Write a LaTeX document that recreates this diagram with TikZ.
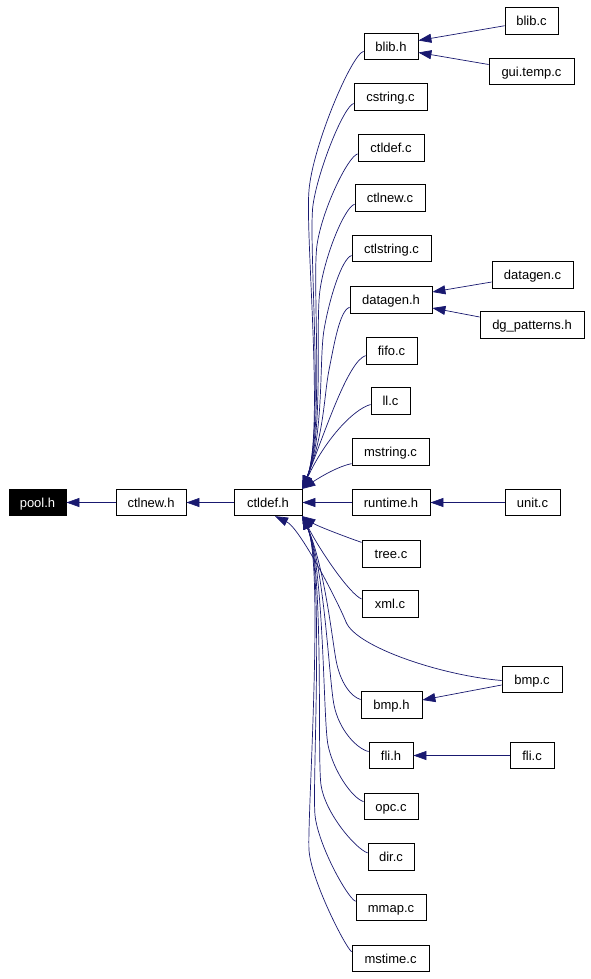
\documentclass[tikz,border=0pt]{standalone}
\usepackage{fontspec}
\setmainfont{Liberation Sans}
\usetikzlibrary{arrows.meta}
\definecolor{edgeblue}{HTML}{191970}
\begin{document}
\begin{tikzpicture}[x=1pt,y=-1pt,
  box/.style={draw=black, line width=0.8pt, minimum height=26.5pt, inner sep=0pt,
    text height=9.5pt, text depth=0pt, font=\fontsize{13}{15}\selectfont},
  dep/.style={draw=edgeblue, line width=0.7pt, -{Triangle[length=13pt,width=9pt]}}]
\useasboundingbox[fill=white] (0,0) rectangle (591,979);
% nodes
\node[box, fill=black, text=white, minimum width=57pt] (poolh) at (37.5,502.5) {pool.h};
\node[box, minimum width=70pt] (ctlnewh) at (151,502.5) {ctlnew.h};
\node[box, minimum width=68pt] (ctldefh) at (268,502.5) {ctldef.h};
\node[box, minimum width=54pt] (blibh) at (391,46.5) {blib.h};
\node[box, minimum width=53pt] (blibc) at (531.5,21) {blib.c};
\node[box, minimum width=85pt] (guitempc) at (531.5,71.5) {gui.temp.c};
\node[box, minimum width=73pt] (cstringc) at (390.5,97) {cstring.c};
\node[box, minimum width=66pt] (ctldefc) at (391,148) {ctldef.c};
\node[box, minimum width=70pt] (ctlnewc) at (390,198) {ctlnew.c};
\node[box, minimum width=79pt] (ctlstringc) at (391.5,248.5) {ctlstring.c};
\node[box, minimum width=82pt] (datagenh) at (391,300) {datagen.h};
\node[box, minimum width=81pt] (datagenc) at (532.5,275) {datagen.c};
\node[box, minimum width=104pt] (dgpatternsh) at (532,325) {dg\_patterns.h};
\node[box, minimum width=51pt] (fifoc) at (391.5,351) {fifo.c};
\node[box, minimum width=39pt] (llc) at (390.5,401) {ll.c};
\node[box, minimum width=77pt] (mstringc) at (390.5,452) {mstring.c};
\node[box, minimum width=78pt] (runtimeh) at (391,502.5) {runtime.h};
\node[box, minimum width=55pt] (unitc) at (532.5,502.5) {unit.c};
\node[box, minimum width=58pt] (treec) at (391,554) {tree.c};
\node[box, minimum width=56pt] (xmlc) at (390,604) {xml.c};
\node[box, minimum width=60pt] (bmpc) at (532,679.5) {bmp.c};
\node[box, minimum width=61pt] (bmph) at (391.5,705) {bmp.h};
\node[box, minimum width=44pt] (flih) at (391,755.5) {fli.h};
\node[box, minimum width=44pt] (flic) at (532,755.5) {fli.c};
\node[box, minimum width=54pt] (opcc) at (391,806.5) {opc.c};
\node[box, minimum width=46pt] (dirc) at (391,857) {dir.c};
\node[box, minimum width=70pt] (mmapc) at (391,907.5) {mmap.c};
\node[box, minimum width=77pt] (mstimec) at (390.5,958.5) {mstime.c};
% straight edges
\draw[dep] (ctlnewh) -- (poolh);
\draw[dep] (ctldefh) -- (ctlnewh);
\draw[dep] (runtimeh) -- (ctldefh);
\draw[dep] (unitc) -- (runtimeh);
\draw[dep] (flic) -- (flih);
\draw[dep] (blibc.190) -- ([yshift=6pt]blibh.east);
\draw[dep] ([yshift=7pt]guitempc.west) -- ([yshift=-6pt]blibh.east);
\draw[dep] ([yshift=-7pt]datagenc.west) -- ([yshift=8pt]datagenh.east);
\draw[dep] ([yshift=8pt]dgpatternsh.west) -- ([yshift=-8pt]datagenh.east);
\draw[dep] ([yshift=-5.5pt]bmpc.west) -- ([yshift=5pt]bmph.east);
% edges from above into ctldef.h
\draw[dep] (blibh.190) .. controls +(-12,3) and +(4,-45) .. (309,190)
  .. controls +(-4,45) and +(22,-55) .. (ctldefh.north east);
\draw[dep] (cstringc.190) .. controls +(-10,3) and +(5,-35) .. (313,205)
  .. controls +(-5,35) and +(22,-55) .. (ctldefh.north east);
\draw[dep] (ctldefc.190) .. controls +(-10,3) and +(5,-35) .. (317,245)
  .. controls +(-5,35) and +(22,-55) .. (ctldefh.north east);
\draw[dep] (ctlnewc.190) .. controls +(-10,3) and +(5,-35) .. (320,290)
  .. controls +(-5,35) and +(22,-55) .. (ctldefh.north east);
\draw[dep] (ctlstringc.190) .. controls +(-10,3) and +(5,-30) .. (324,330)
  .. controls +(-5,30) and +(22,-55) .. (ctldefh.north east);
\draw[dep] (datagenh.190) .. controls +(-10,3) and +(5,-25) .. (329,370)
  .. controls +(-5,25) and +(22,-55) .. (ctldefh.north east);
\draw[dep] (fifoc.190) .. controls +(-18,6) and +(22,-55) .. (ctldefh.north east);
\draw[dep] (llc.190) .. controls +(-18,5) and +(22,-48) .. (ctldefh.north east);
\draw[dep] ([yshift=2pt]mstringc.south west) .. controls +(-15,3) and +(15,-10) .. (ctldefh.north east);
% edges from below into ctldef.h
\draw[dep] ([yshift=-2pt]treec.north west) .. controls +(-12,-4) and +(15,10) .. (ctldefh.south east);
\draw[dep] (xmlc.170) .. controls +(-12,-5) and +(18,35) .. (ctldefh.south east);
\draw[dep] ([yshift=-1pt]bmpc.west) .. controls +(-60,-5) and +(10,25) .. (346,622)
  .. controls +(-8,-20) and +(25,12) .. ([xshift=7pt]ctldefh.south);
\draw[dep] (bmph.170) .. controls +(-10,-3) and +(4,22) .. (336,660)
  .. controls +(-4,-22) and +(22,50) .. (ctldefh.south east);
\draw[dep] (flih.170) .. controls +(-12,-3) and +(5,25) .. (334,705)
  .. controls +(-5,-25) and +(22,50) .. (ctldefh.south east);
\draw[dep] (opcc.170) .. controls +(-12,-4) and +(5,25) .. (328,745)
  .. controls +(-5,-25) and +(22,50) .. (ctldefh.south east);
\draw[dep] (dirc.170) .. controls +(-12,-4) and +(4,28) .. (321,785)
  .. controls +(-4,-28) and +(22,50) .. (ctldefh.south east);
\draw[dep] (mmapc.170) .. controls +(-8,-3) and +(3,30) .. (315,815)
  .. controls +(-3,-30) and +(22,50) .. (ctldefh.south east);
\draw[dep] (mstimec.170) .. controls +(-6,-4) and +(2,30) .. (309,850)
  .. controls +(-2,-30) and +(22,50) .. (ctldefh.south east);
\end{tikzpicture}
\end{document}
